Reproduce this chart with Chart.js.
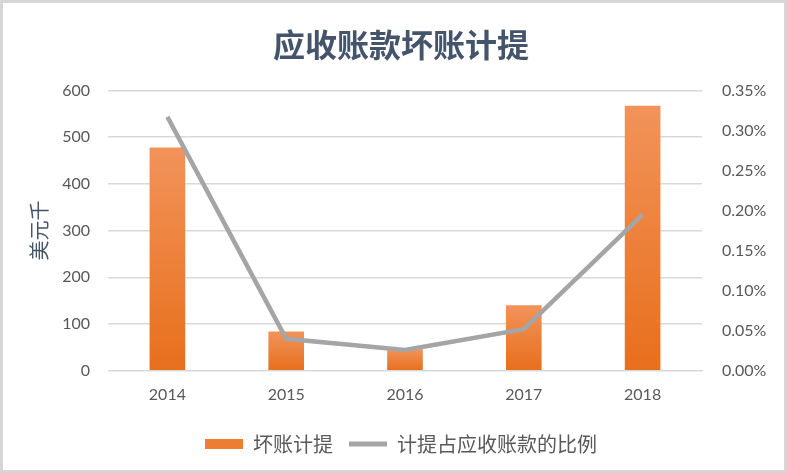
<!DOCTYPE html>
<html><head><meta charset="utf-8">
<script src="https://cdn.jsdelivr.net/npm/chart.js@4"></script>
<style>html,body{margin:0;padding:0;background:#fff}#wrap{width:787px;height:473px;position:relative}</style>
</head><body><div id="wrap"><canvas id="c" width="787" height="473"></canvas></div>
<script>
const categories = ['2014','2015','2016','2017','2018'];
const badDebt = [478, 84, 46, 140, 567];
const ratio = [0.317, 0.040, 0.026, 0.052, 0.195];
const leftTicks = [0,100,200,300,400,500,600];
const rightTicks = [0,0.05,0.10,0.15,0.20,0.25,0.30,0.35];
const chartTitle = '应收账款坏账计提';
const leftTitle = '美元千';
const seriesNames = ['坏账计提','计提占应收账款的比例'];

const FONT = "Lato, 'Noto Sans CJK SC', sans-serif";
const CJK = "'Noto Sans CJK SC', sans-serif";

function barFill(ctx){
  const chart = ctx.chart;
  if (ctx.type !== 'data' || !chart.scales || !chart.scales.y) return '#ed7d31';
  const y = chart.scales.y;
  const top = y.getPixelForValue(ctx.raw);
  const bot = y.getPixelForValue(0);
  if (!isFinite(top) || !isFinite(bot) || top === bot) return '#ed7d31';
  const g = chart.ctx.createLinearGradient(0, top, 0, bot);
  g.addColorStop(0, '#f2935a');
  g.addColorStop(1, '#e76f1c');
  return g;
}

const frame = {
  id:'frame',
  beforeDraw(chart){
    const c = chart.ctx;
    c.save();
    c.fillStyle='#fff';
    c.fillRect(0,0,chart.width,chart.height);
    c.strokeStyle='#d6d6d6';
    c.lineWidth=3;
    c.strokeRect(1.5,1.5,chart.width-3,chart.height-3);
    c.restore();
  }
};

new Chart(document.getElementById('c'), {
  data: {
    labels: categories,
    datasets: [
      { type:'line', label: seriesNames[1], data: ratio, yAxisID:'y1',
        borderColor:'#a5a5a5', backgroundColor:'#a5a5a5', borderWidth:4.5,
        pointRadius:0, pointHoverRadius:0, tension:0, pointStyle:'line', order:0 },
      { type:'bar', label: seriesNames[0], data: badDebt, yAxisID:'y',
        backgroundColor: barFill, borderWidth:0,
        categoryPercentage: 1, barPercentage: 0.3, pointStyle:'rect', order:1 }
    ]
  },
  options: {
    responsive:false, animation:false,
    devicePixelRatio:1,
    layout:{ padding:{ left:25, right:10, top:8, bottom:9 } },
    plugins:{
      title:{ display:true, text: chartTitle, color:'#44546a',
        font:{ family:CJK, size:32, weight:'600' }, padding:{ top:18, bottom:26 } },
      legend:{ position:'bottom', reverse:true,
        labels:{ color:'#595959', font:{ family:CJK, size:20 }, usePointStyle:true,
          pointStyleWidth:38, boxHeight:10, padding:16,
          generateLabels(chart){
            const items = Chart.defaults.plugins.legend.labels.generateLabels(chart);
            items.forEach(it=>{
              if (it.datasetIndex===1){ it.fillStyle='#ed7d31'; it.strokeStyle='#ed7d31'; it.lineWidth=0; it.pointStyle='rect'; }
              else { it.strokeStyle='#a5a5a5'; it.lineWidth=5; it.pointStyle='line'; }
            });
            return items;
          } } },
      tooltip:{ enabled:false }
    },
    scales:{
      x:{ grid:{ display:false, drawTicks:false }, border:{ display:true, color:'#d9d9d9' },
        ticks:{ color:'#595959', font:{ family:FONT, size:16 }, padding:14 } },
      y:{ position:'left', min:0, max:600,
        afterBuildTicks(s){ s.ticks = leftTicks.map(v=>({value:v})); },
        afterFit(s){ s.width = 83; },
        grid:{ color:'#d9d9d9', drawTicks:false, lineWidth:1.5 }, border:{ display:false },
        ticks:{ color:'#595959', font:{ family:FONT, size:16 }, padding:18 },
        title:{ display:true, text:leftTitle, color:'#44546a', font:{ family:CJK, size:20 }, padding:{top:2,bottom:0} } },
      y1:{ position:'right', min:0, max:0.35,
        afterBuildTicks(s){ s.ticks = rightTicks.map(v=>({value:v})); },
        afterFit(s){ s.width = 75; },
        grid:{ display:false, drawTicks:false }, border:{ display:false },
        ticks:{ color:'#595959', font:{ family:FONT, size:16 }, padding:20,
          callback:(v)=>v.toFixed(2)+'%' } }
    }
  },
  plugins:[frame]
});
</script></body></html>
